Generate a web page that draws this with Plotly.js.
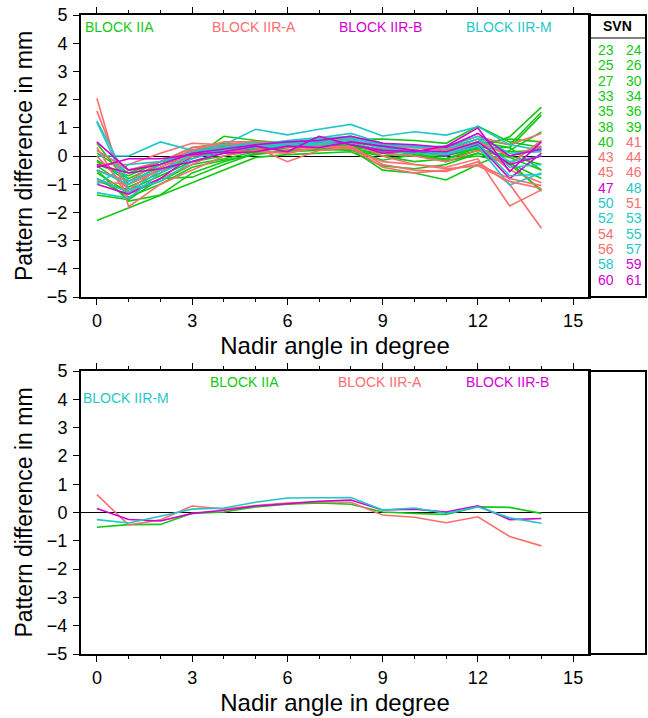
<!DOCTYPE html>
<html>
<head>
<meta charset="utf-8">
<script src="https://cdn.plot.ly/plotly-3.0.1.min.js"></script>
<style>html,body{margin:0;padding:0;background:#fff;}#chart{width:648px;height:718px;}</style>
</head>
<body>
<div id="chart"></div>
<script>
// ---------------- DATA ----------------
const nadir = [0,1,2,3,4,5,6,7,8,9,10,11,12,13,14];

const blockNames = ["BLOCK IIA","BLOCK IIR-A","BLOCK IIR-B","BLOCK IIR-M"];
const blockColors = ["#14c814","#fa6e6e","#d200d2","#1ec8c8"];

// SVN legend (two columns), in reading order
const svnList  = [23,24,25,26,27,30,33,34,35,36,38,39,40,41,43,44,45,46,47,48,50,51,52,53,54,55,56,57,58,59,60,61];
const svnBlock = [0,0,0,0,0,0,0,0,0,0,0,0,0,1,1,1,1,1,2,3,3,1,3,3,1,3,1,3,3,2,2,2];

// pattern differences per satellite (mm), same order as svnList
const svn23 = [-2.29,-1.85,-1.40,-0.95,-0.50,-0.05,0.05,0.10,0.15,-0.35,-0.45,-0.30,0.10,-0.20,-1.25];
const svn24 = [-1.38,-1.55,-0.80,-0.75,-0.30,0.10,0.15,0.20,0.25,-0.50,-0.60,-0.85,-0.30,0.20,0.85];
const svn25 = [-0.50,-1.60,-1.38,-0.60,-0.20,0.10,0.20,0.25,0.30,0.00,-0.20,-0.10,0.30,0.68,1.73];
const svn26 = [0.45,-1.00,-0.50,-0.10,0.70,0.55,0.45,0.50,0.45,0.20,0.10,0.20,0.60,0.40,1.55];
const svn27 = [-0.20,-0.90,-0.40,0.10,0.20,0.30,0.35,0.45,0.50,0.30,0.20,0.10,0.50,0.30,1.45];
const svn30 = [-0.90,-1.20,-0.70,-0.20,0.00,0.25,0.30,0.35,0.25,0.10,0.00,-0.10,0.20,-0.05,-0.50];
const svn33 = [0.20,-0.50,-0.30,0.20,0.35,0.40,0.50,0.55,0.60,0.60,0.55,0.45,1.06,0.50,0.30];
const svn34 = [-0.60,-1.30,-0.90,-0.30,-0.10,0.15,0.30,0.30,0.25,-0.15,0.05,-0.20,0.10,-0.30,-1.20];
const svn35 = [-0.30,-0.70,-0.20,0.00,0.10,0.20,0.30,0.40,0.35,0.15,0.20,0.10,0.35,0.15,0.20];
const svn36 = [-0.80,-1.45,-1.00,-0.40,-0.15,0.05,0.20,0.25,0.20,0.00,0.10,-0.15,0.00,-0.25,-0.80];
const svn38 = [0.10,-0.60,-0.20,0.30,0.45,0.35,0.40,0.45,0.40,0.20,0.15,0.10,0.45,0.60,0.50];
const svn39 = [-0.35,-1.10,-0.60,0.05,0.25,0.20,0.35,0.40,0.30,0.20,0.10,0.05,0.25,0.00,-0.30];
const svn40 = [-0.15,-0.80,-0.30,0.15,0.30,0.30,0.35,0.45,0.40,0.10,0.00,0.00,0.30,0.30,-0.50];
const svn41 = [2.05,-1.80,-1.00,-0.50,0.00,0.20,0.10,0.30,0.35,-0.30,-0.50,-0.55,-0.20,-1.00,-2.56];
const svn43 = [1.60,-1.30,-0.80,-0.30,0.20,0.30,0.20,0.40,0.50,0.00,-0.30,-0.40,-0.10,-1.77,-1.20];
const svn44 = [0.30,-1.50,-0.60,0.30,0.40,0.50,0.30,0.50,0.60,0.30,0.20,0.10,0.40,-0.50,-0.95];
const svn45 = [-0.30,-0.30,0.10,0.45,0.40,0.45,0.40,0.60,0.70,0.40,0.35,0.30,0.70,0.40,0.80];
const svn46 = [-0.50,-0.90,-0.20,0.30,0.30,0.40,0.30,0.45,0.50,0.10,0.00,-0.20,0.20,-0.30,0.55];
const svn47 = [-1.00,-1.35,-0.80,0.00,0.10,0.30,0.40,0.50,0.45,0.10,0.20,0.00,0.40,-0.80,0.10];
const svn48 = [1.25,-0.90,-0.50,0.00,0.30,0.50,0.40,0.60,0.70,0.30,0.20,0.10,0.50,-0.20,0.00];
const svn50 = [0.00,0.00,0.50,0.20,0.40,0.95,0.75,0.95,1.12,0.71,0.86,0.74,1.04,0.40,0.20];
const svn51 = [0.00,-1.20,-0.40,0.10,0.25,0.30,-0.20,0.20,0.30,-0.40,-0.60,-0.50,-0.30,-0.80,-1.05];
const svn52 = [1.20,-1.20,-0.90,-0.20,0.15,0.30,0.35,0.40,0.45,0.20,0.10,0.05,0.35,-1.03,-0.60];
const svn53 = [-1.30,-1.50,-0.60,-0.10,0.20,0.30,0.40,0.45,0.55,0.35,0.30,0.25,0.60,0.00,0.30];
const svn54 = [-0.90,-1.00,-0.50,0.00,0.20,0.15,0.10,0.35,0.25,-0.20,-0.30,-0.45,-0.35,-0.90,-1.15];
const svn55 = [-0.50,-1.00,-0.30,0.15,0.30,0.45,0.50,0.60,0.65,0.40,0.35,0.30,0.60,-0.40,-0.30];
const svn56 = [0.20,-0.50,-0.20,0.20,0.50,0.50,0.45,0.55,0.60,0.25,0.30,0.20,0.50,0.00,0.35];
const svn57 = [-0.80,-1.30,-0.50,0.05,0.20,0.35,0.45,0.50,0.60,0.25,0.20,0.10,0.45,-0.70,-0.65];
const svn58 = [-1.00,-0.30,-0.20,0.10,0.25,0.40,0.55,0.65,0.80,0.45,0.30,0.35,0.70,0.10,0.15];
const svn59 = [-0.40,-0.10,-0.10,0.05,0.15,0.35,0.15,0.70,0.40,0.20,0.15,0.35,1.00,-0.55,0.50];
const svn60 = [-0.30,-0.60,-0.45,-0.20,0.10,0.15,0.35,0.30,0.50,0.35,0.20,0.15,0.50,-0.30,0.00];
const svn61 = [0.50,-0.50,-0.30,0.10,0.25,0.40,0.50,0.55,0.70,0.45,0.40,0.30,0.80,0.00,0.25];

const svnDiff = [svn23,svn24,svn25,svn26,svn27,svn30,svn33,svn34,svn35,svn36,svn38,svn39,svn40,
                 svn41,svn43,svn44,svn45,svn46,svn47,svn48,svn50,svn51,svn52,svn53,svn54,svn55,
                 svn56,svn57,svn58,svn59,svn60,svn61];

// block-wise patterns (lower panel)
const blockIIA  = [-0.52,-0.43,-0.42,-0.03,0.02,0.20,0.29,0.34,0.29,0.02,-0.03,-0.07,0.20,0.18,-0.03];
const blockIIRA = [0.63,-0.44,-0.26,0.23,0.12,0.25,0.33,0.38,0.36,-0.09,-0.17,-0.36,-0.15,-0.85,-1.18];
const blockIIRB = [0.14,-0.25,-0.30,-0.03,0.08,0.23,0.31,0.40,0.44,0.09,0.12,0.02,0.24,-0.25,-0.21];
const blockIIRM = [-0.25,-0.37,-0.13,0.12,0.16,0.36,0.51,0.51,0.53,0.09,0.16,-0.03,0.20,-0.19,-0.38];
const blockMeans = [blockIIA, blockIIRA, blockIIRB, blockIIRM];

// ---------------- LAYOUT HELPERS ----------------
const W = 648, H = 718;
const fx = p => p / W;
const fy = p => 1 - p / H;
const FONT = "Liberation Sans, Arial, Helvetica, sans-serif";

const traces = [];
svnList.forEach((s, i) => {
  traces.push({
    x: nadir, y: svnDiff[i], type: "scatter", mode: "lines",
    name: "SVN " + s, xaxis: "x", yaxis: "y",
    line: {color: blockColors[svnBlock[i]], width: 1.6}, hoverinfo: "name+y"
  });
});
blockMeans.forEach((m, b) => {
  traces.push({
    x: nadir, y: m, type: "scatter", mode: "lines",
    name: blockNames[b], xaxis: "x2", yaxis: "y2",
    line: {color: blockColors[b], width: 1.6}
  });
});

const xDomain = [fx(81), fx(589)];
function xAx(anchor) {
  return {
    domain: xDomain, anchor: anchor, range: [-0.5, 15.5],
    tickmode: "linear", tick0: 0, dtick: 3,
    ticks: "outside", ticklen: 6, tickwidth: 1, tickcolor: "#000",
    minor: {tickmode: "linear", tick0: 0, dtick: 1, ticks: "outside", ticklen: 3, tickwidth: 1, tickcolor: "#000", showgrid: false},
    showline: true, linewidth: 2, linecolor: "#000", mirror: "allticks",
    showgrid: false, zeroline: false,
    tickfont: {family: FONT, size: 18, color: "#000"},
    title: {text: "Nadir angle in degree", font: {family: FONT, size: 24, color: "#000"}, standoff: 8},
    fixedrange: true
  };
}
function yAx(anchor, dom) {
  return {
    domain: dom, anchor: anchor, range: [-5, 5],
    tickmode: "linear", tick0: -5, dtick: 1,
    ticks: "outside", ticklen: 6, tickwidth: 1, tickcolor: "#000",
    showline: true, linewidth: 2, linecolor: "#000", mirror: true,
    showgrid: false, zeroline: true, zerolinecolor: "#000", zerolinewidth: 1,
    tickfont: {family: FONT, size: 18, color: "#000"},
    ticklabelstandoff: 2,
    title: {text: "Pattern difference in mm", font: {family: FONT, size: 23, color: "#000"}, standoff: 8},
    fixedrange: true
  };
}

const annotations = [];
const shapes = [];
function label(text, x, y, color, size, extra) {
  annotations.push(Object.assign({
    text: text, xref: "paper", yref: "paper", x: fx(x), y: fy(y),
    xanchor: "left", yanchor: "middle", showarrow: false,
    font: {family: FONT, size: size, color: color}
  }, extra || {}));
}
// block labels, upper panel
label(blockNames[0], 83, 27, blockColors[0], 14);
label(blockNames[1], 210, 27, blockColors[1], 14);
label(blockNames[2], 337, 27, blockColors[2], 14);
label(blockNames[3], 464, 27, blockColors[3], 14);
// block labels, lower panel
label(blockNames[0], 208, 382, blockColors[0], 14);
label(blockNames[1], 336, 382, blockColors[1], 14);
label(blockNames[2], 464, 382, blockColors[2], 14);
label(blockNames[3], 81, 398, blockColors[3], 14);

// SVN legend box (upper)
shapes.push({type: "rect", xref: "paper", yref: "paper", x0: fx(589), x1: fx(646), y0: fy(297), y1: fy(15), line: {color: "#000", width: 2}});
shapes.push({type: "line", xref: "paper", yref: "paper", x0: fx(589), x1: fx(646), y0: fy(38), y1: fy(38), line: {color: "#000", width: 1}});
label("<b>SVN</b>", 617, 26, "#000", 14, {xanchor: "center"});
svnList.forEach((s, i) => {
  const row = Math.floor(i / 2), col = i % 2;
  label(String(s), col ? 634 : 606, 50 + row * 15.3, blockColors[svnBlock[i]], 14, {xanchor: "center"});
});
// empty box (lower)
shapes.push({type: "rect", xref: "paper", yref: "paper", x0: fx(589), x1: fx(646), y0: fy(654), y1: fy(371), line: {color: "#000", width: 2}});

const layout = {
  width: W, height: H,
  margin: {l: 0, r: 0, t: 0, b: 0},
  paper_bgcolor: "#fff", plot_bgcolor: "#fff",
  showlegend: false,
  xaxis: xAx("y"),
  yaxis: yAx("x", [fy(297), fy(15)]),
  xaxis2: xAx("y2"),
  yaxis2: yAx("x2", [fy(654), fy(371)]),
  annotations: annotations,
  shapes: shapes,
  font: {family: FONT, color: "#000"}
};

Plotly.newPlot("chart", traces, layout, {displayModeBar: false, staticPlot: true});
</script>
</body>
</html>
